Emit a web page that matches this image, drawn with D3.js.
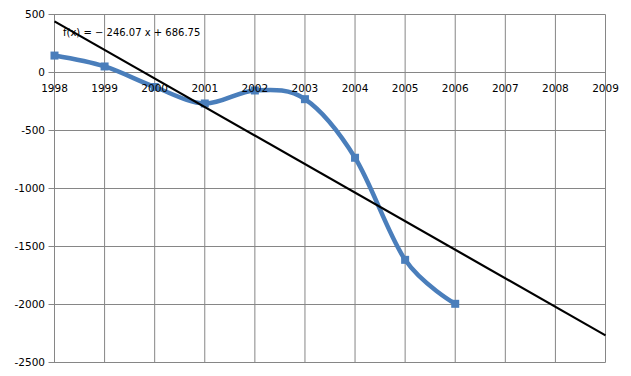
<!DOCTYPE html>
<html><head><meta charset="utf-8">
<script src="https://cdn.jsdelivr.net/npm/d3@7"></script>
<style>body{margin:0;background:#fff}svg{display:block}text{font-family:"DejaVu Sans",sans-serif;font-size:10.5px;fill:#000}</style>
</head><body><svg width="631" height="376"></svg>
<script>
const years = [1998,1999,2000,2001,2002,2003,2004,2005,2006];
const values = [146,52,-125,-267,-155,-230,-735,-1615,-1994];
const xTicks = [1998,1999,2000,2001,2002,2003,2004,2005,2006,2007,2008,2009];
const yTicks = [500,0,-500,-1000,-1500,-2000,-2500];
const trendSlope = -246.07, trendIntercept = 686.75;
const trendLabel = "f(x) = − 246.07 x + 686.75";

const svg = d3.select("svg");
const x = d3.scaleLinear().domain([1998,2009]).range([54.5,605.5]);
const y = d3.scaleLinear().domain([-2500,500]).range([362.5,14.5]);
const grid = "#868686";

svg.append("g").selectAll("line").data(xTicks).join("line")
  .attr("x1",d=>x(d)).attr("x2",d=>x(d)).attr("y1",y(500)).attr("y2",y(-2500))
  .attr("stroke",grid).attr("stroke-width",1);
svg.append("g").selectAll("line").data(yTicks).join("line")
  .attr("x1",x(1998)-6).attr("x2",x(2009)).attr("y1",d=>y(d)).attr("y2",d=>y(d))
  .attr("stroke",grid).attr("stroke-width",1);
svg.append("g").selectAll("text").data(yTicks).join("text")
  .attr("x",45).attr("y",d=>y(d)).attr("dy","0.35em").attr("text-anchor","end").text(d=>d);

const line = d3.line().x(d=>x(d[0])).y(d=>y(d[1])).curve(d3.curveCatmullRom.alpha(0));
const pts = years.map((d,i)=>[d,values[i]]);
svg.append("path").attr("d",line(pts)).attr("fill","none").attr("stroke","#4a7ebb")
  .attr("stroke-width",4.5);
svg.append("g").selectAll("rect").data(pts).join("rect")
  .attr("x",d=>x(d[0])-4).attr("y",d=>y(d[1])-4).attr("width",8).attr("height",8).attr("fill","#4a7ebb");

const tr = [1998,2009].map(yr=>[yr, trendSlope*(yr-1997)+trendIntercept]);
svg.append("path").attr("d",d3.line().x(d=>x(d[0])).y(d=>y(d[1]))(tr))
  .attr("fill","none").attr("stroke","#000").attr("stroke-width",2.2);

svg.append("g").selectAll("text").data(xTicks).join("text")
  .attr("x",d=>x(d)).attr("y",y(0)+19).attr("text-anchor","middle").text(d=>d);

svg.append("text").attr("x",63).attr("y",36).style("font-size","10px").text(trendLabel);
</script></body></html>
